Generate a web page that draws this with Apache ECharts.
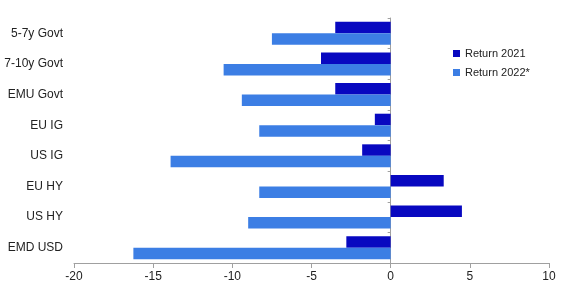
<!DOCTYPE html>
<html>
<head>
<meta charset="utf-8">
<script src="https://cdn.jsdelivr.net/npm/echarts@6/dist/echarts.min.js"></script>
<style>html,body{margin:0;padding:0;background:#fff;}#c{width:564px;height:287px;}</style>
</head>
<body>
<div id="c"></div>
<script>
const categories = ['5-7y Govt', '7-10y Govt', 'EMU Govt', 'EU IG', 'US IG', 'EU HY', 'US HY', 'EMD USD'];
const return2021 = [-3.5, -4.4, -3.5, -1.0, -1.8, 3.35, 4.5, -2.8];
const return2022 = [-7.5, -10.55, -9.4, -8.3, -13.9, -8.3, -9.0, -16.25];
const seriesNames = ['Return 2021', 'Return 2022*'];
const xTicks = { min: -20, max: 10, interval: 5 };

const chart = echarts.init(document.getElementById('c'), null, { renderer: 'canvas' });
chart.setOption({
  animation: false,
  textStyle: { fontFamily: 'Liberation Sans, Arial, sans-serif' },
  grid: { left: 74, right: 15, top: 18, bottom: 24, containLabel: false, outerBoundsMode: 'none' },
  legend: {
    orient: 'vertical',
    left: 448, top: 43,
    itemWidth: 7, itemHeight: 7, itemGap: 8,
    icon: 'rect',
    textStyle: { fontSize: 11, color: '#222', fontFamily: 'Liberation Sans, Arial, sans-serif' },
    data: seriesNames
  },
  xAxis: {
    type: 'value',
    min: xTicks.min, max: xTicks.max, interval: xTicks.interval,
    axisLine: { show: true, onZero: false, lineStyle: { color: '#a0a0a0' } },
    axisTick: { show: true, length: 5, lineStyle: { color: '#a0a0a0' } },
    axisLabel: { fontSize: 12, color: '#222', margin: 8 },
    splitLine: { show: false }
  },
  yAxis: [
    {
      type: 'category',
      inverse: true,
      position: 'left',
      data: categories,
      axisLine: { show: false, onZero: false },
      axisTick: { show: false },
      axisLabel: { fontSize: 12, color: '#222', margin: 11 }
    },
    {
      type: 'category',
      inverse: true,
      position: 'left',
      data: categories,
      axisLine: { show: true, onZero: true, lineStyle: { color: '#a0a0a0' } },
      axisTick: { show: true, length: 3, lineStyle: { color: '#a0a0a0' } },
      axisLabel: { show: false }
    }
  ],
  series: [
    { name: seriesNames[0], type: 'bar', yAxisIndex: 0, data: return2021, itemStyle: { color: '#0808C0' }, barGap: '0%', barCategoryGap: '25%' },
    { name: seriesNames[1], type: 'bar', yAxisIndex: 0, data: return2022, itemStyle: { color: '#3C7EE4' }, barGap: '0%', barCategoryGap: '25%' }
  ]
});
</script>
</body>
</html>
